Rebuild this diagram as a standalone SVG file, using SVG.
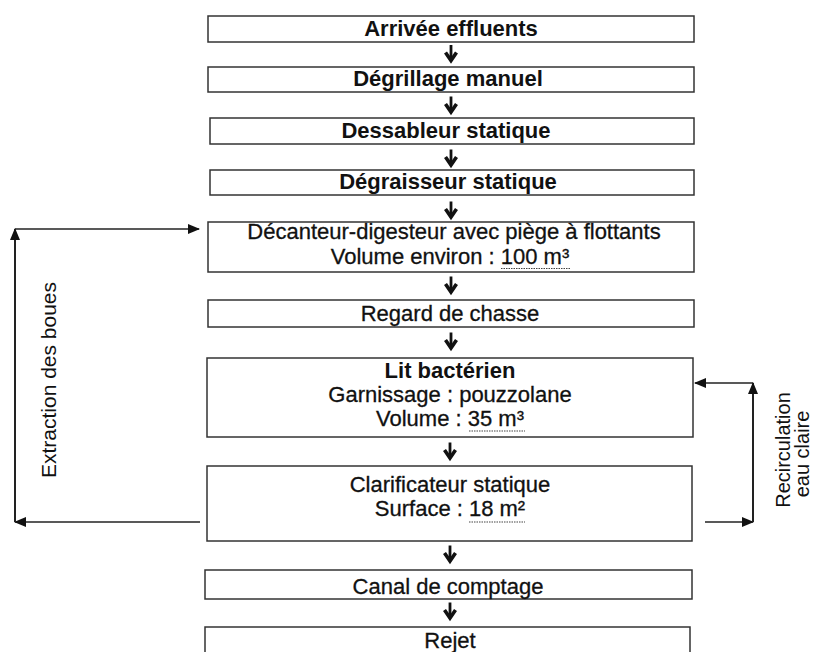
<svg xmlns="http://www.w3.org/2000/svg" width="817" height="652" viewBox="0 0 817 652">
<defs>
<style>
.box{fill:#fff;stroke:#333;stroke-width:1.5}
.t{font-family:"Liberation Sans",Arial,sans-serif;font-size:22px;fill:#111;text-anchor:middle;stroke:#111;stroke-width:0.3}
.b{font-weight:bold;stroke-width:0}
.side{font-family:"Liberation Sans",Arial,sans-serif;fill:#111;text-anchor:middle}
.ul{stroke:#444;stroke-width:1.2;stroke-dasharray:1.5 1}
.ln{fill:none;stroke:#222;stroke-width:1.6}
.vl{fill:none;stroke:#222;stroke-width:2}
</style>
<marker id="ah" viewBox="0 0 12 10" refX="11" refY="5" markerWidth="12" markerHeight="10" markerUnits="userSpaceOnUse" orient="auto">
<path d="M0,0 L12,5 L0,10 Z" fill="#111"/>
</marker>
<g id="darr">
<path d="M0,-8.5 L0,5" stroke="#111" stroke-width="2.8" fill="none"/>
<path d="M-5.5,-1 L0,7 L5.5,-1" stroke="#111" stroke-width="3.6" fill="none" stroke-linejoin="miter"/>
</g>
</defs>
<rect width="817" height="652" fill="#fff"/>

<g id="n1"><rect class="box" x="208" y="16" width="486" height="26"/><text class="t b" x="451" y="36">Arrivée effluents</text></g>
<g id="n2"><rect class="box" x="208" y="67" width="486" height="25"/><text class="t b" x="448" y="86">Dégrillage manuel</text></g>
<g id="n3"><rect class="box" x="210" y="118" width="484" height="26"/><text class="t b" x="446" y="138">Dessableur statique</text></g>
<g id="n4"><rect class="box" x="210" y="170" width="484" height="25"/><text class="t b" x="448" y="189">Dégraisseur statique</text></g>
<g id="n5"><rect class="box" x="208" y="222" width="486" height="50"/>
<text class="t" x="454" y="239">Décanteur-digesteur avec piège à flottants</text>
<text class="t" x="450" y="264">Volume environ : 100 m³</text>
<line class="ul" x1="501" y1="268.5" x2="571" y2="268.5"/></g>
<g id="n6"><rect class="box" x="208" y="300" width="486" height="27"/><text class="t" x="450" y="321">Regard de chasse</text></g>
<g id="n7"><rect class="box" x="207" y="358" width="486" height="79"/>
<text class="t b" x="450" y="378">Lit bactérien</text>
<text class="t" x="450" y="402">Garnissage : pouzzolane</text>
<text class="t" x="450" y="426">Volume : 35 m³</text>
<line class="ul" x1="469" y1="431" x2="525" y2="431"/></g>
<g id="n8"><rect class="box" x="207" y="466" width="485" height="75"/>
<text class="t" x="450" y="492">Clarificateur statique</text>
<text class="t" x="450" y="516">Surface : 18 m²</text>
<line class="ul" x1="469" y1="522" x2="525" y2="522"/></g>
<g id="n9"><rect class="box" x="205" y="570" width="487" height="29"/><text class="t" x="448" y="594">Canal de comptage</text></g>
<g id="n10"><rect class="box" x="205" y="627" width="485" height="40"/><text class="t" x="450" y="648">Rejet</text></g>

<g id="connectors">
<use href="#darr" x="451" y="53.5"/>
<use href="#darr" x="451" y="105"/>
<use href="#darr" x="451" y="158"/>
<use href="#darr" x="451" y="210"/>
<use href="#darr" x="451" y="285"/>
<use href="#darr" x="451" y="341"/>
<use href="#darr" x="450" y="451"/>
<use href="#darr" x="450" y="554"/>
<use href="#darr" x="450" y="611"/>
<!-- extraction des boues -->
<line class="ln" x1="200" y1="522" x2="15" y2="522" marker-end="url(#ah)"/>
<line class="vl" x1="15" y1="522" x2="15" y2="229" marker-end="url(#ah)"/>
<line class="ln" x1="15" y1="229" x2="199" y2="229" marker-end="url(#ah)"/>
<!-- recirculation -->
<line class="ln" x1="705" y1="522" x2="753" y2="522" marker-end="url(#ah)"/>
<line class="vl" x1="753" y1="522" x2="753" y2="383" marker-end="url(#ah)"/>
<line class="ln" x1="753" y1="383" x2="695" y2="383" marker-end="url(#ah)"/>
</g>

<g id="labels">
<text class="side" font-size="21" x="56" y="380" transform="rotate(-90 56 380)">Extraction des boues</text>
<text class="side" font-size="20" x="790" y="450" transform="rotate(-90 790 450)">Recirculation</text>
<text class="side" font-size="20" x="809" y="454" transform="rotate(-90 809 454)">eau claire</text>
</g>
</svg>
